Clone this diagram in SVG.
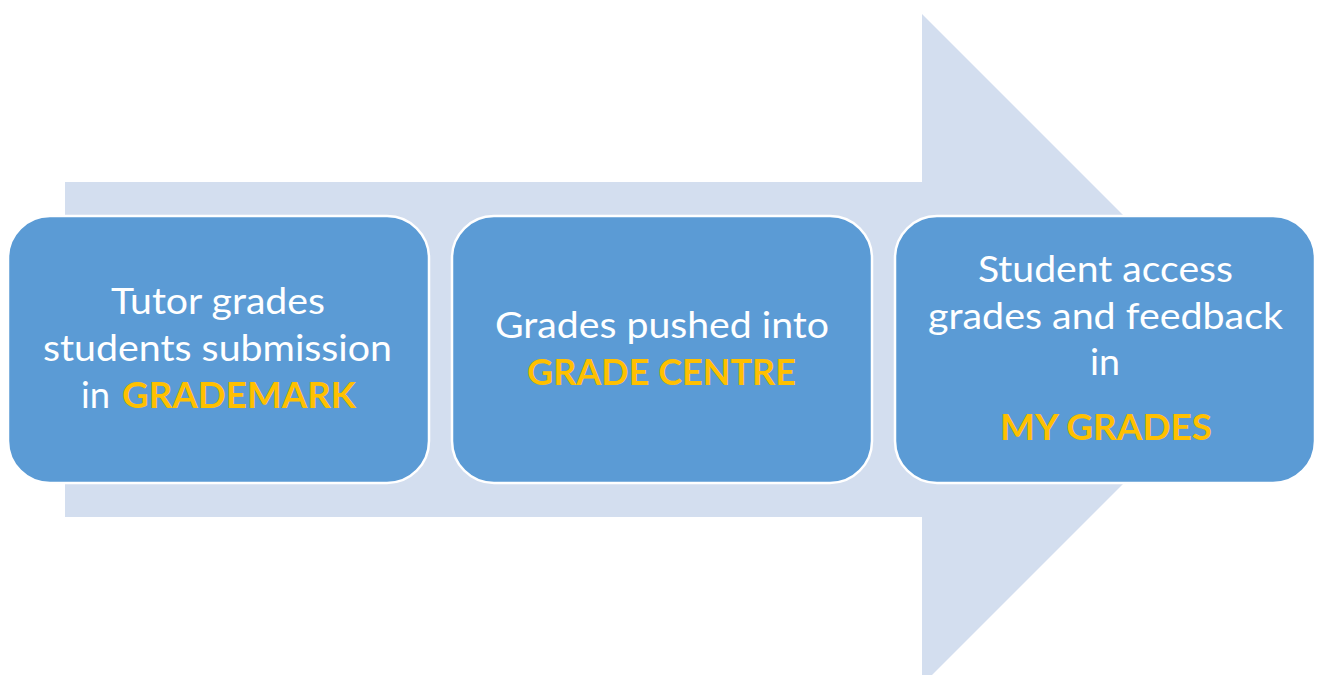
<svg xmlns="http://www.w3.org/2000/svg" width="1318" height="675" viewBox="0 0 1318 675">
<style>
.box{fill:#5B9BD5;stroke:#FFFFFF;stroke-width:2.5}
.t{font-family:Lato,"Open Sans","Liberation Sans",sans-serif;font-size:37px;fill:#FFFFFF}
.y{font-family:Lato,"Open Sans","Liberation Sans",sans-serif;font-size:37px;font-weight:bold;fill:#FFC000}
</style>
<rect width="1318" height="675" fill="#FFFFFF"/>
<g id="connectors">
<polygon points="65,182 922,182 922,14 1257.5,349.5 922,685 922,517 65,517" fill="#D3DEEF"/>
</g>
<g id="node1">
<rect class="box" x="8" y="216" width="421" height="267" rx="42"/>
<text class="t" x="111" y="314" textLength="214" lengthAdjust="spacingAndGlyphs">Tutor grades</text>
<text class="t" x="43" y="361" textLength="349" lengthAdjust="spacingAndGlyphs">students submission</text>
<text class="t" x="81" y="408" textLength="29" lengthAdjust="spacingAndGlyphs">in</text>
<text class="y" x="122" y="408" textLength="234" lengthAdjust="spacingAndGlyphs">GRADEMARK</text>
</g>
<g id="node2">
<rect class="box" x="452" y="216" width="420" height="267" rx="42"/>
<text class="t" x="495" y="338" textLength="334" lengthAdjust="spacingAndGlyphs">Grades pushed into</text>
<text class="y" x="527" y="385" textLength="269" lengthAdjust="spacingAndGlyphs">GRADE CENTRE</text>
</g>
<g id="node3">
<rect class="box" x="895" y="216" width="420" height="267" rx="42"/>
<text class="t" x="978" y="282" textLength="255" lengthAdjust="spacingAndGlyphs">Student access</text>
<text class="t" x="928" y="329" textLength="355" lengthAdjust="spacingAndGlyphs">grades and feedback</text>
<text class="t" x="1090" y="375" textLength="30" lengthAdjust="spacingAndGlyphs">in</text>
<text class="y" x="1000" y="440" textLength="212" lengthAdjust="spacingAndGlyphs">MY GRADES</text>
</g>
</svg>
